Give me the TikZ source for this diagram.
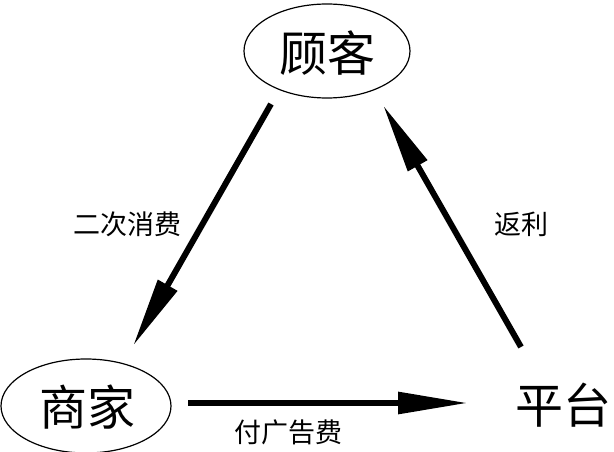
\documentclass[tikz,border=0pt]{standalone}
\usepackage{fontspec}
\newfontfamily\cjk{Noto Sans CJK SC}
\usetikzlibrary{arrows.meta,shapes.geometric}
\begin{document}
\begin{tikzpicture}[x=1pt,y=-1pt,
  ell/.style={ellipse,draw,line width=1.2pt,inner sep=0pt},
  big/.style={font=\cjk\fontsize{48}{48}\selectfont},
  lab/.style={font=\cjk\fontsize{27}{27}\selectfont},
  conn/.style={line width=6pt,-{Triangle[length=70pt,width=21pt]}}]
\useasboundingbox (0,0) rectangle (614,452);
\node[ell,minimum width=166pt,minimum height=94pt] (gk) at (327,51) {};
\node[big] at (327,53) {顾客};
\node[ell,minimum width=170pt,minimum height=94pt] (sj) at (86,406) {};
\node[big] at (87,407) {商家};
\node[big] (pt) at (563,405) {平台};
\coordinate (a1) at (271,104);
\coordinate (b1) at (133,346);
\coordinate (a2) at (521,347);
\coordinate (b2) at (383,105);
\coordinate (a3) at (188,403);
\coordinate (b3) at (468,403);
\draw[conn] (a1) -- (b1);
\draw[conn] (a2) -- (b2);
\draw[conn] (a3) -- (b3);
\node[lab] at (128,224) {二次消费};
\node[lab] at (521,224) {返利};
\node[lab] at (288,432) {付广告费};
\end{tikzpicture}
\end{document}
